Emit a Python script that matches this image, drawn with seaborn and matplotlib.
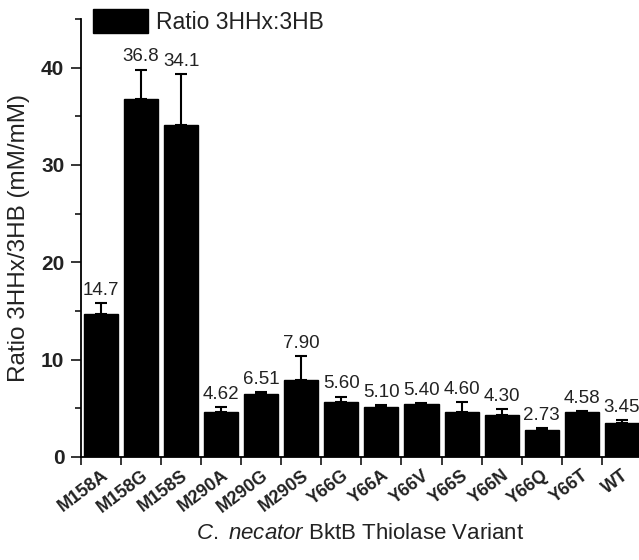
import matplotlib
matplotlib.use("Agg")
import matplotlib.pyplot as plt
import matplotlib.ticker as mticker
import matplotlib.transforms as mtransforms
import seaborn as sns
import numpy as np
import pandas as pd

variants = ["M158A", "M158G", "M158S", "M290A", "M290G", "M290S", "Y66G",
            "Y66A", "Y66V", "Y66S", "Y66N", "Y66Q", "Y66T", "WT"]
ratios = [14.7, 36.8, 34.1, 4.62, 6.51, 7.90, 5.60, 5.10, 5.40, 4.60, 4.30, 2.73, 4.58, 3.45]
errors = [1.1, 3.0, 5.2, 0.55, 0.2, 2.5, 0.6, 0.2, 0.1, 1.0, 0.6, 0.25, 0.15, 0.35]
value_labels = ["14.7", "36.8", "34.1", "4.62", "6.51", "7.90", "5.60", "5.10",
                "5.40", "4.60", "4.30", "2.73", "4.58", "3.45"]

sns.set_theme(style="ticks")
plt.rcParams["font.family"] = ["Liberation Sans", "DejaVu Sans"]
plt.rcParams["mathtext.fontset"] = "custom"
plt.rcParams["mathtext.rm"] = "Liberation Sans"
plt.rcParams["mathtext.it"] = "Liberation Sans:italic"

df = pd.DataFrame({"Variant": variants, "Ratio": ratios})

fig = plt.figure(figsize=(6.39, 5.6), dpi=100)
ax = fig.add_axes([81 / 639, 1 - 457 / 560, 1 - 81 / 639, (457 - 19) / 560])

sns.barplot(data=df, x="Variant", y="Ratio", color="black", width=0.85,
            saturation=1, edgecolor="black", ax=ax, label="Ratio 3HHx:3HB")

xpos = np.arange(len(variants))
ax.errorbar(xpos, ratios, yerr=[np.zeros(len(errors)), errors], fmt="none",
            ecolor="black", elinewidth=1.5, capsize=4.5, capthick=1.5)

for x, v, e, lab in zip(xpos, ratios, errors, value_labels):
    ax.annotate(lab, (x, v + e), xytext=(0, 3), textcoords="offset points",
                ha="center", va="bottom", fontsize=13.5, color="#222222")

ax.set_xlim(-0.5, 13.43)
ax.set_ylim(0, 45)
ax.yaxis.set_major_locator(mticker.MultipleLocator(10))
ax.yaxis.set_minor_locator(mticker.MultipleLocator(5))
ax.set_xticks(xpos)
ax.set_xticks(xpos - 0.5, minor=True)
ax.set_xticklabels(variants, rotation=37, ha="right", va="top",
                   rotation_mode="anchor", fontweight="bold", fontsize=13)
shift = mtransforms.ScaledTranslation(-3 / 100, 0, fig.dpi_scale_trans)
for t in ax.get_xticklabels():
    t.set_transform(t.get_transform() + shift)
    t.set_color("#222222")
ax.tick_params(axis="x", which="major", length=0, pad=7)
ax.tick_params(axis="x", which="minor", length=5.5, width=1.3, direction="out")
ax.tick_params(axis="y", which="major", length=7, width=1.3, direction="out",
               labelsize=15, pad=5)
ax.tick_params(axis="y", which="minor", length=4, width=1.3, direction="out")
for t in ax.get_yticklabels():
    t.set_fontweight("bold")
    t.set_color("#222222")

sns.despine(ax=ax)
for s in ["left", "bottom"]:
    ax.spines[s].set_linewidth(1.3)
    ax.spines[s].set_color("black")

ax.set_xlabel(r"$\it{C.\ necator}$ BktB Thiolase Variant", fontsize=16,
              labelpad=5, color="#222222")
ax.set_ylabel("Ratio 3HHx/3HB (mM/mM)", fontsize=17.5, color="#222222", labelpad=8)

leg = ax.legend(loc="upper left", bbox_to_anchor=(84 / 639, 1.0),
                bbox_transform=fig.transFigure, frameon=False, fontsize=16.5,
                handlelength=2.4, handleheight=1.2, handletextpad=0.35,
                borderaxespad=0.2, borderpad=0.2)
for t in leg.get_texts():
    t.set_color("#222222")

fig.savefig("out.png", dpi=100)
